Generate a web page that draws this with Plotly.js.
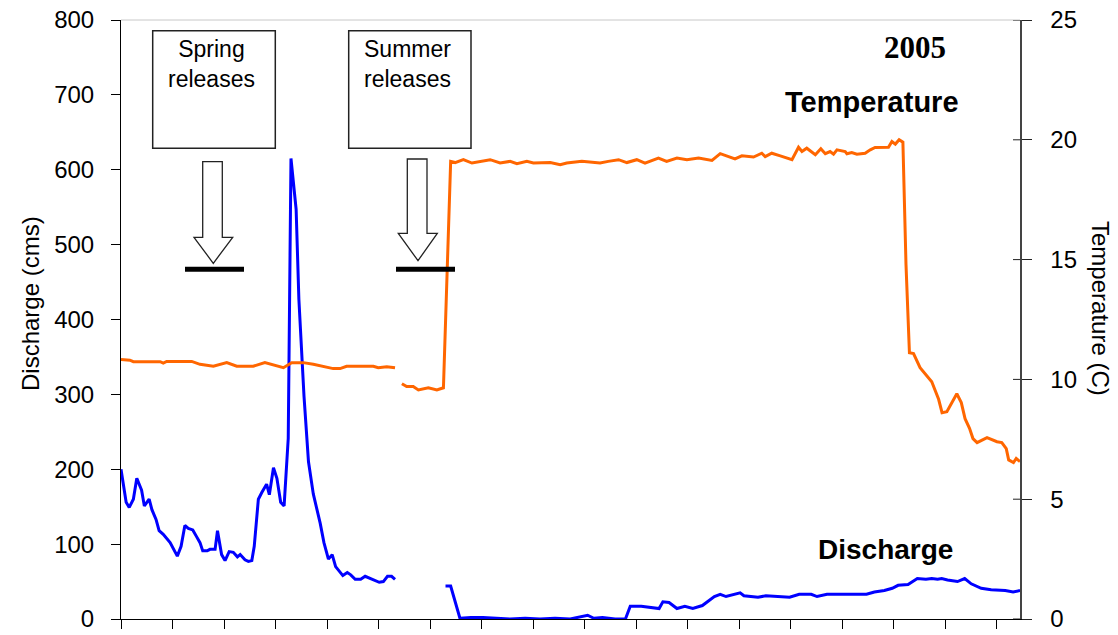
<!DOCTYPE html>
<html>
<head>
<meta charset="utf-8">
<script src="https://cdn.plot.ly/plotly-3.0.1.min.js"></script>
<style>
  html, body { margin: 0; padding: 0; background: #fff; }
  #chart { width: 1118px; height: 635px; }
</style>
</head>
<body>
<div id="chart"></div>
<script>
// ---- Data (day index from start of record) ----
const dischargeDay = [0, 1.5, 2.4, 3.6, 4.6, 6.0, 6.8, 8.2, 9.0, 10.2, 11.1, 12.3, 14.3, 16.4, 17.5, 18.6, 19.6, 20.9, 22.0, 23.0, 23.8, 25.1, 25.9, 27.4, 28.1, 29.3, 30.3, 31.5, 32.7, 33.9, 34.7, 36.1, 37.1, 38.1, 38.8, 40.0, 41.0, 42.4, 43.2, 44.4, 45.4, 46.5, 47.5, 48.7, 49.5, 51.0, 51.8, 53.3, 54.6, 56.0, 58.0, 59.1, 60.4, 61.5, 62.5, 63.8, 64.6, 65.9, 66.9, 68.2, 69.8, 71.1, 72.5, 74.0, 75.2, 76.4, 77.6, 78.8, 79.8,
  87.0,
  94.5, 96.0, 98.7, 101.9, 105.4, 109.0, 113.3, 117.7, 122.0, 126.4, 130.8, 135.9, 137.7, 140.2, 143.9, 146.9, 148.3, 151.5, 156.7, 157.8, 159.6, 161.9, 164.2, 166.5, 169.3, 172.8, 174.5, 176.2, 180.3, 181.4, 185.5, 187.8, 191.8, 194.7, 197.5, 201.0, 202.7, 205.6, 217.1, 219.4, 222.3, 224.6, 226.3, 229.2, 231.9, 234.4, 236.1, 237.8, 239.0, 240.7, 243.6, 245.7, 247.6, 250.5, 253.4, 257.5, 259.8, 261.8];
const dischargeCms = [200, 156, 149, 160, 188, 172, 151, 160, 146, 133, 118, 113, 102, 84, 97, 125, 121, 119, 110, 102, 91, 91, 93, 93, 118, 86, 78, 90, 89, 83, 86, 79, 77, 78, 97, 160, 169, 180, 166, 202, 188, 156, 151, 241, 615, 547, 427, 297, 210, 167, 128, 102, 80, 86, 70, 62, 58, 62, 59, 53, 53, 57, 54, 51, 49, 50, 57, 57, 53,
  null,
  44, 44, 1, 2, 2, 1, 0, 1, 0, 1, 0, 5, 1, 2, 0, 0, 17, 17, 14, 23, 22, 14, 17, 14, 18, 30, 33, 30, 35, 31, 29, 31, 30, 29, 33, 33, 30, 33, 33, 36, 38, 41, 45, 46, 54, 53, 54, 53, 54, 52, 50, 54, 47, 41, 39, 38, 36, 38];

const temperatureDay = [0, 2.6, 3.6, 11.4, 12.3, 13.3, 20.6, 23.0, 26.9, 30.8, 33.7, 38.5, 41.9, 44.4, 47.3, 49.7, 53.1, 56.0, 58.9, 61.8, 63.8, 65.7, 73.5, 74.9, 77.4, 79.8,
  80.8,
  81.8, 83.2, 85.1, 86.6, 89.5, 92.0, 93.9, 96.0, 97.3, 99.7, 102.2, 107.5, 110.4, 113.3, 115.3, 118.2, 120.1, 125.0, 127.9, 129.8, 134.2, 139.5, 141.9, 144.9, 147.3, 150.2, 152.6, 156.5, 158.9, 161.9, 164.8, 168.2, 172.1, 174.5, 178.8, 180.8, 184.2, 186.6, 187.6, 189.5, 192.0, 195.4, 197.3, 198.3, 199.7, 202.2, 203.8, 205.1, 206.5, 207.5, 208.5, 210.9, 211.4, 212.8, 214.3, 216.7, 218.2, 219.6, 223.5, 224.5, 225.5, 226.6, 227.7, 228.6, 229.6, 230.8, 232.7, 234.2, 236.1, 238.1, 239.1, 240.5, 241.5, 243.4, 244.7, 245.8, 247.1, 248.1, 249.3, 252.2, 255.1, 256.5, 257.8, 258.5, 259.9, 260.7, 261.8];
const temperatureC = [10.83, 10.80, 10.74, 10.74, 10.68, 10.75, 10.75, 10.63, 10.55, 10.70, 10.55, 10.55, 10.70, 10.60, 10.49, 10.70, 10.70, 10.63, 10.55, 10.45, 10.45, 10.55, 10.55, 10.49, 10.53, 10.49,
  null,
  9.82, 9.70, 9.70, 9.56, 9.65, 9.56, 9.65, 19.10, 19.05, 19.17, 19.03, 19.17, 19.03, 19.10, 19.00, 19.10, 19.03, 19.05, 18.96, 19.03, 19.10, 19.03, 19.10, 19.17, 19.05, 19.17, 19.03, 19.24, 19.10, 19.24, 19.17, 19.24, 19.14, 19.42, 19.20, 19.33, 19.28, 19.44, 19.30, 19.44, 19.33, 19.17, 19.69, 19.51, 19.65, 19.38, 19.63, 19.42, 19.51, 19.40, 19.58, 19.51, 19.42, 19.47, 19.40, 19.44, 19.58, 19.68, 19.69, 19.93, 19.82, 20.00, 19.90, 14.8, 11.11, 11.08, 10.49, 10.21, 9.90, 9.17, 8.61, 8.65, 8.89, 9.40, 9.03, 8.36, 7.96, 7.53, 7.36, 7.57, 7.40, 7.36, 7.11, 6.64, 6.53, 6.70, 6.57];

const dischargeTicks = [0, 100, 200, 300, 400, 500, 600, 700, 800];
const temperatureTicks = [0, 5, 10, 15, 20, 25];
const labels = {
  yLeft: 'Discharge (cms)',
  yRight: 'Temperature (C)',
  year: '2005',
  temp: 'Temperature',
  disch: 'Discharge',
  spring: 'Spring<br>releases',
  summer: 'Summer<br>releases'
};

// ---- Layout helpers (pixel -> paper) ----
const PL = 121, PR = 1020, PT = 20, PB = 619;
const px = x => (x - PL) / (PR - PL);
const py = y => (PB - y) / (PB - PT);

const FONT = 'Liberation Sans, Arial, sans-serif';

function arrowPath(xs0, xs1, xh0, xh1, xt, yTop, yBase, yTip) {
  return 'M' + px(xs0) + ',' + py(yTop) +
         ' L' + px(xs1) + ',' + py(yTop) +
         ' L' + px(xs1) + ',' + py(yBase) +
         ' L' + px(xh1) + ',' + py(yBase) +
         ' L' + px(xt) + ',' + py(yTip) +
         ' L' + px(xh0) + ',' + py(yBase) +
         ' L' + px(xs0) + ',' + py(yBase) + ' Z';
}

const traces = [
  {
    x: dischargeDay, y: dischargeCms, type: 'scatter', mode: 'lines',
    line: { color: '#0000FF', width: 3 }, connectgaps: false,
    yaxis: 'y', hoverinfo: 'skip', showlegend: false
  },
  {
    x: temperatureDay, y: temperatureC, type: 'scatter', mode: 'lines',
    line: { color: '#FF6600', width: 3 }, connectgaps: false,
    yaxis: 'y2', hoverinfo: 'skip', showlegend: false
  }
];

const shapes = [
  // top border of plot area
  { type: 'line', xref: 'paper', yref: 'paper', x0: 0, x1: 1, y0: 1, y1: 1,
    line: { color: '#c8c8c8', width: 1 } },
  // text boxes
  { type: 'rect', xref: 'paper', yref: 'paper', x0: px(152.7), x1: px(275.3), y0: py(148.3), y1: py(30.7),
    line: { color: '#222', width: 1.5 }, fillcolor: '#fff', layer: 'above' },
  { type: 'rect', xref: 'paper', yref: 'paper', x0: px(348.7), x1: px(471), y0: py(148.3), y1: py(30.7),
    line: { color: '#222', width: 1.5 }, fillcolor: '#fff', layer: 'above' },
  // hollow arrows
  { type: 'path', xref: 'paper', yref: 'paper',
    path: arrowPath(202.7, 222.3, 194, 232.7, 213.3, 161.7, 237.3, 263.3),
    line: { color: '#222', width: 1.3 }, fillcolor: '#fff', layer: 'above' },
  { type: 'path', xref: 'paper', yref: 'paper',
    path: arrowPath(407.3, 427, 398.3, 437.3, 418, 159, 233.3, 260.7),
    line: { color: '#222', width: 1.3 }, fillcolor: '#fff', layer: 'above' },
  // thick bars
  { type: 'line', xref: 'paper', yref: 'paper', x0: px(185), x1: px(244), y0: py(269.3), y1: py(269.3),
    line: { color: '#000', width: 5 }, layer: 'above' },
  { type: 'line', xref: 'paper', yref: 'paper', x0: px(396), x1: px(455), y0: py(269.3), y1: py(269.3),
    line: { color: '#000', width: 5 }, layer: 'above' }
];
// inner half of right-axis ticks (ticks cross the axis)
temperatureTicks.forEach(t => {
  shapes.push({ type: 'line', xref: 'paper', yref: 'y2', x0: px(1013), x1: 1, y0: t, y1: t,
    line: { color: '#222', width: 1 } });
});

const annotations = [
  { xref: 'paper', yref: 'paper', x: px(211), y: py(34), xanchor: 'center', yanchor: 'top',
    text: labels.spring, showarrow: false, font: { family: FONT, size: 23, color: '#000' } },
  { xref: 'paper', yref: 'paper', x: px(407), y: py(34), xanchor: 'center', yanchor: 'top',
    text: labels.summer, showarrow: false, font: { family: FONT, size: 23, color: '#000' } },
  { xref: 'paper', yref: 'paper', x: px(914.5), y: py(47), xanchor: 'center', yanchor: 'middle',
    text: '<b>' + labels.year + '</b>', showarrow: false,
    font: { family: 'Liberation Serif, Times New Roman, serif', size: 31, color: '#000' } },
  { xref: 'paper', yref: 'paper', x: px(872), y: py(102), xanchor: 'center', yanchor: 'middle',
    text: '<b>' + labels.temp + '</b>', showarrow: false, font: { family: FONT, size: 29, color: '#000' } },
  { xref: 'paper', yref: 'paper', x: px(885.5), y: py(549), xanchor: 'center', yanchor: 'middle',
    text: '<b>' + labels.disch + '</b>', showarrow: false, font: { family: FONT, size: 28, color: '#000' } },
  { xref: 'paper', yref: 'paper', x: px(30), y: py(304), xanchor: 'center', yanchor: 'middle',
    text: labels.yLeft, textangle: -90, showarrow: false, font: { family: FONT, size: 24, color: '#000' } },
  { xref: 'paper', yref: 'paper', x: px(1101), y: py(308), xanchor: 'center', yanchor: 'middle',
    text: labels.yRight, textangle: 90, showarrow: false, font: { family: FONT, size: 24, color: '#000' } }
];

const layout = {
  width: 1118, height: 635,
  margin: { l: PL, r: 1118 - PR, t: PT, b: 635 - PB, pad: 0 },
  paper_bgcolor: '#fff', plot_bgcolor: '#fff',
  showlegend: false,
  font: { family: FONT, size: 24, color: '#000' },
  xaxis: {
    range: [0, 261.8], tickmode: 'linear', tick0: 0, dtick: 15,
    showticklabels: false, ticks: 'outside', ticklen: 9, tickwidth: 1, tickcolor: '#000',
    showline: true, linecolor: '#000', linewidth: 1,
    showgrid: false, zeroline: false, fixedrange: true
  },
  yaxis: {
    range: [0, 800], tickmode: 'array', tickvals: dischargeTicks, ticktext: dischargeTicks.map(String),
    ticks: 'outside', ticklen: 9, tickwidth: 1, tickcolor: '#000',
    showline: true, linecolor: '#000', linewidth: 1,
    showgrid: false, zeroline: false, fixedrange: true,
    tickfont: { family: FONT, size: 24, color: '#000' }, ticklabelstandoff: 12
  },
  yaxis2: {
    range: [0, 25], overlaying: 'y', side: 'right',
    tickmode: 'array', tickvals: temperatureTicks, ticktext: temperatureTicks.map(String),
    ticks: 'outside', ticklen: 10, tickwidth: 1, tickcolor: '#222',
    showline: true, linecolor: '#444', linewidth: 1.5,
    showgrid: false, zeroline: false, fixedrange: true,
    tickfont: { family: FONT, size: 24, color: '#000' }, ticklabelstandoff: 14
  },
  shapes: shapes,
  annotations: annotations
};

Plotly.newPlot('chart', traces, layout, { displayModeBar: false, staticPlot: true });
</script>
</body>
</html>
